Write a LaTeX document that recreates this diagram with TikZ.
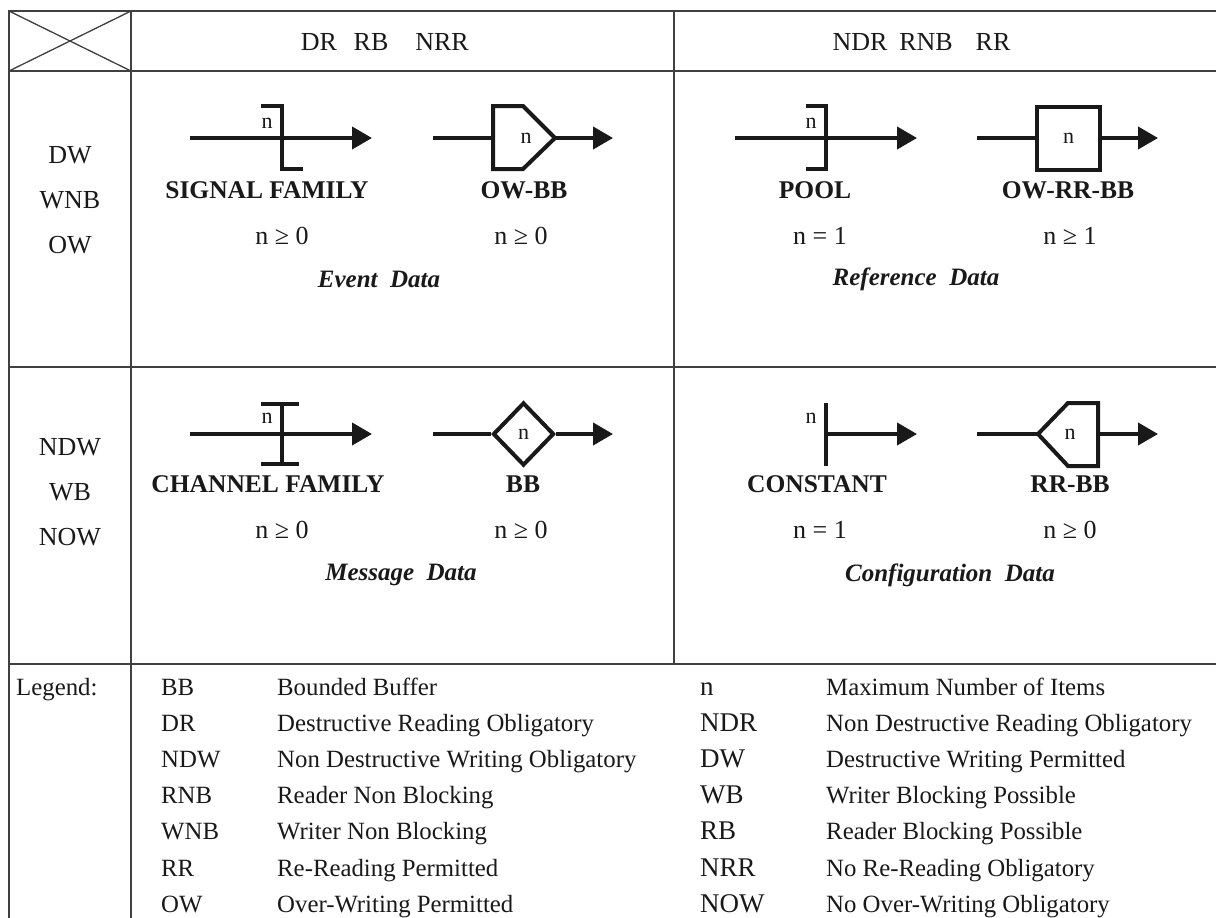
\documentclass[tikz,border=0pt]{standalone}
\usepackage{fontspec}
\setmainfont{Liberation Serif}
\usetikzlibrary{arrows.meta,shapes.geometric}

\begin{document}
\begin{tikzpicture}[x=1pt, y=-1pt,
  tabline/.style={line width=1.3pt, black!75},
  sym/.style={line width=4pt, black!90},
  flow/.style={sym, -{Triangle[length=20pt,width=22pt]}},
  every node/.style={inner sep=0pt, text=black!90},
  hdr/.style={font=\fontsize{26}{30}\selectfont},
  symname/.style={font=\fontsize{25.5}{30}\selectfont\bfseries},
  kind/.style={font=\fontsize{25}{30}\selectfont\bfseries\itshape},
  cnt/.style={font=\fontsize{22}{26}\selectfont},
  leg/.style={anchor=base west, font=\fontsize{24.8}{30}\selectfont},
  legbig/.style={anchor=base west, font=\fontsize{27}{30}\selectfont}]

  \fill[white] (0,0) rectangle (1216,918);
  \useasboundingbox (0,0) rectangle (1216,918);

  % table rules
  \draw[tabline] (9,918) -- (9,11) -- (1216,11);
  \draw[tabline] (131,11) -- (131,918);
  \draw[tabline] (674,11) -- (674,664);
  \foreach \y in {71,367,664} \draw[tabline] (9,\y) -- (1216,\y);
  \draw[tabline] (9,11) -- (131,71) (9,71) -- (131,11);

  % column heads
  \node[hdr] (hDR) at (319,42) {DR};
  \node[hdr] (hRB) at (371,42) {RB};
  \node[hdr] (hNRR) at (442,42) {NRR};
  \node[hdr] (hNDR) at (860,42) {NDR};
  \node[hdr] (hRNB) at (926,42) {RNB};
  \node[hdr] (hRR) at (993,42) {RR};

  % row heads
  \node[hdr] (rDW) at (70,155) {DW};
  \node[hdr] (rWNB) at (70,200) {WNB};
  \node[hdr] (rOW) at (70,245) {OW};
  \node[hdr] (rNDW) at (70,447) {NDW};
  \node[hdr] (rWB) at (70,492) {WB};
  \node[hdr] (rNOW) at (70,537) {NOW};

  % signal family
  \coordinate (sfIn) at (190,138);
  \coordinate (sfOut) at (372,138);
  \draw[flow] (sfIn) -- (sfOut);
  \draw[sym] (261,106) -- (282,106) -- (282,169) -- (303,169);
  \node[cnt] (sfN) at (267,123) {n};

  % ow-bb
  \coordinate (obIn) at (433,138);
  \coordinate (obL) at (493,138);
  \coordinate (obR) at (555,138);
  \coordinate (obOut) at (613,138);
  \draw[sym] (obIn) -- (obL);
  \draw[sym] (493,106) -- (523,106) -- (obR) -- (523,169) -- (493,169) -- cycle;
  \draw[flow] (obR) -- (obOut);
  \node[cnt] (obN) at (526,138) {n};

  % pool
  \coordinate (poIn) at (735,138);
  \coordinate (poOut) at (917,138);
  \draw[flow] (poIn) -- (poOut);
  \draw[sym] (806,106) -- (826,106) -- (826,169) -- (806,169);
  \node[cnt] (poN) at (811,123) {n};

  % ow-rr-bb
  \coordinate (orbIn) at (977,138);
  \coordinate (orbOut) at (1158,138);
  \node[sym, draw, minimum width=63pt, minimum height=63pt, cnt] (orbBox) at (1068.5,138) {n};
  \draw[sym] (orbIn) -- (orbBox);
  \draw[flow] (orbBox) -- (orbOut);

  % channel family
  \coordinate (cfIn) at (190,434);
  \coordinate (cfOut) at (372,434);
  \draw[flow] (cfIn) -- (cfOut);
  \draw[sym] (282,404) -- (282,464);
  \draw[sym] (261,404) -- (299,404) (261,464) -- (299,464);
  \node[cnt] (cfN) at (267,418) {n};

  % bb
  \coordinate (bbIn) at (433,434);
  \coordinate (bbOut) at (613,434);
  \node[sym, draw, diamond, minimum width=61pt, minimum height=63pt, cnt] (bbBox) at (523.5,434) {n};
  \draw[sym] (bbIn) -- (bbBox);
  \draw[flow] (bbBox) -- (bbOut);

  % constant
  \coordinate (coIn) at (826,434);
  \coordinate (coOut) at (917,434);
  \draw[sym] (826,403) -- (826,466);
  \draw[flow] (coIn) -- (coOut);
  \node[cnt] (coN) at (811,418) {n};

  % rr-bb
  \coordinate (rbIn) at (977,434);
  \coordinate (rbL) at (1038,434);
  \coordinate (rbR) at (1098,434);
  \coordinate (rbOut) at (1158,434);
  \draw[sym] (rbIn) -- (rbL);
  \draw[sym] (rbL) -- (1068,403) -- (1098,403) -- (1098,466) -- (1068,466) -- cycle;
  \draw[flow] (rbR) -- (rbOut);
  \node[cnt] (rbN) at (1070,434) {n};

  % names, counts, kinds
  \node[symname] (tSF) at (267,190) {SIGNAL FAMILY};
  \node[symname] (tOB) at (524,190) {OW-BB};
  \node[symname] (tPO) at (815,190) {POOL};
  \node[symname] (tORB) at (1068,190) {OW-RR-BB};
  \node[hdr] (nSF) at (282,236) {n ≥ 0};
  \node[hdr] (nOB) at (521,236) {n ≥ 0};
  \node[hdr] (nPO) at (820,236) {n = 1};
  \node[hdr] (nORB) at (1070,236) {n ≥ 1};
  \node[kind] (kEvent) at (379,279) {Event\ \ Data};
  \node[kind] (kRef) at (916,279) {Reference\ \ Data};

  \node[symname] (tCF) at (268,484) {CHANNEL FAMILY};
  \node[symname] (tBB) at (523,484) {BB};
  \node[symname] (tCO) at (817,484) {CONSTANT};
  \node[symname] (tRB) at (1070,484) {RR-BB};
  \node[hdr] (nCF) at (282,530) {n ≥ 0};
  \node[hdr] (nBB) at (521,530) {n ≥ 0};
  \node[hdr] (nCO) at (820,530) {n = 1};
  \node[hdr] (nRB) at (1070,530) {n ≥ 0};
  \node[kind] (kMsg) at (401,575) {Message\ \ Data};
  \node[kind] (kConf) at (950,575) {Configuration\ \ Data};

  % legend
  \node[leg] (legend) at (16,695) {Legend:};
  \foreach \abbr/\desc [count=\i from 0] in {BB/Bounded Buffer, DR/Destructive Reading Obligatory,
      NDW/Non Destructive Writing Obligatory, RNB/Reader Non Blocking, WNB/Writer Non Blocking,
      RR/Re-Reading Permitted, OW/Over-Writing Permitted}
    \node[leg] (legL\i) at (161,{695+36.2*\i}) {\abbr} node[leg] (legLd\i) at (277,{695+36.2*\i}) {\desc};
  \foreach \abbr/\desc [count=\i from 0] in {n/Maximum Number of Items, NDR/Non Destructive Reading Obligatory,
      DW/Destructive Writing Permitted, WB/Writer Blocking Possible, RB/Reader Blocking Possible,
      NRR/No Re-Reading Obligatory, NOW/No Over-Writing Obligatory}
    \node[legbig] (legR\i) at (700,{695+36.2*\i}) {\abbr} node[leg] (legRd\i) at (826,{695+36.2*\i}) {\desc};
\end{tikzpicture}
\end{document}
